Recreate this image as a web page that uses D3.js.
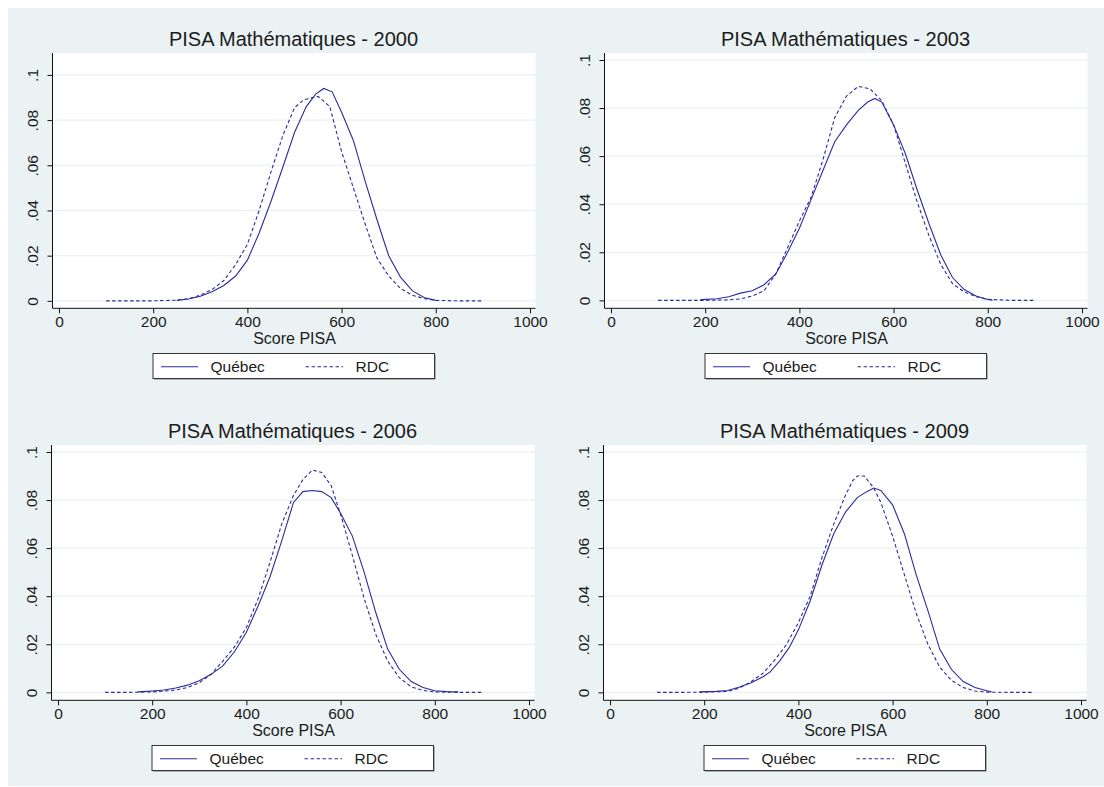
<!DOCTYPE html>
<html>
<head>
<meta charset="utf-8">
<script src="https://cdn.jsdelivr.net/npm/d3@7"></script>
<style>
body { margin: 0; background: #fff; }
text { font-family: "Liberation Sans", Arial, sans-serif; fill: #1c1c1c; }
</style>
</head>
<body>
<svg id="chart" width="1104" height="787"></svg>
<script>
var years = ["2000", "2003", "2006", "2009"];
var seriesNames = ["Québec", "RDC"];
var xTicks = [0, 200, 400, 600, 800, 1000];
var yTicks = [0, 0.02, 0.04, 0.06, 0.08, 0.1];
var yTickLabels = ["0", ".02", ".04", ".06", ".08", ".1"];

// density curves, [score, density]
var quebec2000 = [[250, 0.0002], [275, 0.0008], [300, 0.002], [325, 0.004], [350, 0.0068], [375, 0.011],
    [400, 0.018], [425, 0.030], [450, 0.044], [475, 0.059], [500, 0.0745], [525, 0.086], [545, 0.0915],
    [562, 0.094], [580, 0.0925], [600, 0.0835], [625, 0.071], [650, 0.053], [675, 0.036], [700, 0.020],
    [725, 0.0105], [750, 0.0045], [775, 0.0015], [800, 0.0002]];
var rdc2000 = [[100, 0], [150, 0], [200, 0], [250, 0.0003], [275, 0.001], [300, 0.0025], [325, 0.005],
    [350, 0.009], [375, 0.016], [400, 0.025], [425, 0.040], [450, 0.057], [475, 0.073], [500, 0.0855],
    [520, 0.089], [550, 0.0905], [575, 0.086], [600, 0.066], [625, 0.050], [650, 0.034], [675, 0.019],
    [700, 0.011], [725, 0.0055], [750, 0.0025], [775, 0.001], [800, 0.0002], [850, 0], [900, 0]];

var quebec2003 = [[190, 0.0003], [225, 0.0007], [250, 0.0015], [275, 0.003], [300, 0.004], [325, 0.0065],
    [350, 0.011], [375, 0.020], [400, 0.030], [425, 0.042], [450, 0.054], [475, 0.066], [500, 0.073],
    [525, 0.079], [545, 0.0825], [560, 0.084], [575, 0.0825], [600, 0.073], [625, 0.061], [650, 0.046],
    [675, 0.032], [700, 0.019], [725, 0.0095], [750, 0.0045], [775, 0.0018], [800, 0.0004], [810, 0.0001]];
var rdc2003 = [[100, 0], [150, 0], [200, 0], [250, 0.0002], [275, 0.0006], [300, 0.0018], [325, 0.004],
    [350, 0.011], [375, 0.022], [400, 0.033], [425, 0.043], [450, 0.0585], [475, 0.076], [500, 0.085],
    [525, 0.089], [550, 0.088], [575, 0.083], [600, 0.073], [625, 0.057], [650, 0.041], [675, 0.027],
    [700, 0.015], [725, 0.007], [750, 0.0035], [775, 0.0015], [800, 0.0004], [850, 0], [900, 0]];

var quebec2006 = [[170, 0.0002], [200, 0.0006], [225, 0.001], [250, 0.0018], [275, 0.003], [300, 0.0048],
    [325, 0.0075], [350, 0.011], [375, 0.017], [400, 0.025], [425, 0.036], [450, 0.048], [475, 0.063],
    [500, 0.079], [520, 0.0835], [540, 0.084], [560, 0.0835], [580, 0.081], [600, 0.0745], [625, 0.065],
    [650, 0.050], [675, 0.033], [700, 0.018], [725, 0.0095], [750, 0.0045], [775, 0.002], [800, 0.0007],
    [825, 0.0003], [850, 0.0002]];
var rdc2006 = [[100, 0], [150, 0], [200, 0.0002], [225, 0.0005], [250, 0.001], [275, 0.002], [300, 0.004],
    [325, 0.0075], [350, 0.013], [375, 0.019], [400, 0.027], [425, 0.039], [450, 0.054], [475, 0.070],
    [500, 0.082], [520, 0.0885], [540, 0.0925], [560, 0.0915], [580, 0.086], [600, 0.074], [625, 0.057],
    [650, 0.039], [675, 0.024], [700, 0.013], [725, 0.006], [750, 0.0023], [775, 0.0008], [800, 0.0002],
    [850, 0], [900, 0]];

var quebec2009 = [[190, 0.0002], [225, 0.0004], [250, 0.0008], [275, 0.0022], [300, 0.004], [325, 0.0065],
    [340, 0.0085], [360, 0.013], [380, 0.0185], [400, 0.026], [425, 0.038], [450, 0.053], [475, 0.066],
    [500, 0.075], [525, 0.081], [545, 0.0835], [560, 0.085], [575, 0.084], [600, 0.078], [625, 0.066],
    [650, 0.049], [675, 0.034], [700, 0.018], [725, 0.0095], [750, 0.0045], [775, 0.002], [800, 0.0007],
    [810, 0.0002]];
var rdc2009 = [[100, 0], [150, 0], [200, 0.0001], [250, 0.0004], [275, 0.0018], [300, 0.0045], [325, 0.008],
    [350, 0.0135], [375, 0.020], [400, 0.029], [425, 0.040], [450, 0.056], [475, 0.070], [500, 0.082],
    [515, 0.088], [525, 0.090], [540, 0.090], [560, 0.085], [575, 0.079], [600, 0.065], [625, 0.049],
    [650, 0.033], [675, 0.020], [700, 0.0105], [725, 0.005], [750, 0.002], [775, 0.0006], [800, 0.0001],
    [850, 0], [900, 0]];

var quebecSeries = [quebec2000, quebec2003, quebec2006, quebec2009];
var rdcSeries = [rdc2000, rdc2003, rdc2006, rdc2009];

// ==================================

var lineColor = "#2b2b9c";
var gridColor = "#eaf2f3";
var svg = d3.select("#chart");

svg.append("rect")
    .attr("x", 8).attr("y", 8)
    .attr("width", 1096).attr("height", 778)
    .attr("fill", "#eaf2f3");

var origins = [[0, 0], [552, 0], [-1, 392], [551, 392]];
var yMaxes = [0.1097, 0.1029, 0.1029, 0.1029];

var plotLeft = 52.5, plotRight = 535.5, plotTop = 53, plotBottom = 308.3;

var renderPanel = function(i) {
    var g = svg.append("g")
        .attr("transform", "translate(" + origins[i][0] + "," + origins[i][1] + ")");

    var x = d3.scaleLinear().domain([-13.8, 1011.7]).range([plotLeft, plotRight]);
    var y = d3.scaleLinear().domain([-0.0033, yMaxes[i]]).range([plotBottom, plotTop]);

    g.append("rect")
        .attr("x", plotLeft).attr("y", plotTop)
        .attr("width", plotRight - plotLeft).attr("height", plotBottom - plotTop)
        .attr("fill", "#fff");

    g.selectAll(".grid")
        .data(yTicks)
        .enter().append("line")
        .attr("x1", plotLeft).attr("x2", plotRight)
        .attr("y1", function(d) { return y(d); })
        .attr("y2", function(d) { return y(d); })
        .attr("stroke", gridColor)
        .attr("stroke-width", 1.2);

    var line = d3.line()
        .x(function(d) { return x(d[0]); })
        .y(function(d) { return y(d[1]); });

    g.append("path")
        .attr("d", line(rdcSeries[i]))
        .attr("fill", "none")
        .attr("stroke", lineColor)
        .attr("stroke-width", 1.1)
        .attr("stroke-dasharray", "3.5,2.5");

    g.append("path")
        .attr("d", line(quebecSeries[i]))
        .attr("fill", "none")
        .attr("stroke", lineColor)
        .attr("stroke-width", 1.1);

    // axes
    var xAxis = d3.axisBottom(x).tickValues(xTicks).tickSize(5).tickPadding(3)
        .tickFormat(d3.format("d"));
    var xg = g.append("g")
        .attr("transform", "translate(0," + plotBottom + ")")
        .call(xAxis);
    xg.select(".domain").attr("d", "M" + plotLeft + ",0H" + plotRight).attr("stroke", "#111");
    xg.selectAll(".tick line").attr("stroke", "#111");
    xg.selectAll(".tick text")
        .attr("font-size", 15.5)
        .attr("font-family", "Liberation Sans, Arial, sans-serif")
        .attr("fill", "#1c1c1c");

    var yAxis = d3.axisLeft(y).tickValues(yTicks).tickSize(5)
        .tickFormat(function(d, k) { return yTickLabels[k]; });
    var yg = g.append("g")
        .attr("transform", "translate(" + plotLeft + ",0)")
        .call(yAxis);
    yg.select(".domain").attr("d", "M0," + plotTop + "V" + plotBottom).attr("stroke", "#111");
    yg.selectAll(".tick line").attr("stroke", "#111");
    yg.selectAll(".tick text")
        .attr("font-size", 15.5)
        .attr("font-family", "Liberation Sans, Arial, sans-serif")
        .attr("fill", "#1c1c1c")
        .attr("text-anchor", "middle")
        .attr("dy", null)
        .attr("x", null)
        .attr("transform", "translate(-14.5,0) rotate(-90)");

    g.append("text")
        .attr("x", (plotLeft + plotRight) / 2 - 0.5)
        .attr("y", 46)
        .attr("text-anchor", "middle")
        .attr("font-size", 20)
        .text("PISA Mathématiques - " + years[i]);

    g.append("text")
        .attr("x", (plotLeft + plotRight) / 2 + 0.5)
        .attr("y", 344)
        .attr("text-anchor", "middle")
        .attr("font-size", 16)
        .text("Score PISA");

    // legend
    var lg = g.append("g").attr("transform", "translate(153,353.5)");
    lg.append("rect")
        .attr("x", 1).attr("y", 1)
        .attr("width", 281.5).attr("height", 25)
        .attr("fill", "#777");
    lg.append("rect")
        .attr("width", 281.5).attr("height", 25)
        .attr("fill", "#fff")
        .attr("stroke", "#333")
        .attr("stroke-width", 1);
    lg.append("line")
        .attr("x1", 8).attr("x2", 45).attr("y1", 13.2).attr("y2", 13.2)
        .attr("stroke", lineColor).attr("stroke-width", 1.1);
    lg.append("text")
        .attr("x", 57.5).attr("y", 18.5)
        .attr("font-size", 15.5)
        .text(seriesNames[0]);
    lg.append("line")
        .attr("x1", 152.5).attr("x2", 190).attr("y1", 13.2).attr("y2", 13.2)
        .attr("stroke", lineColor).attr("stroke-width", 1.1)
        .attr("stroke-dasharray", "3.5,2.5");
    lg.append("text")
        .attr("x", 202.5).attr("y", 18.5)
        .attr("font-size", 15.5)
        .text(seriesNames[1]);
};

for (var i = 0; i < years.length; i++) {
    renderPanel(i);
}
</script>
</body>
</html>
